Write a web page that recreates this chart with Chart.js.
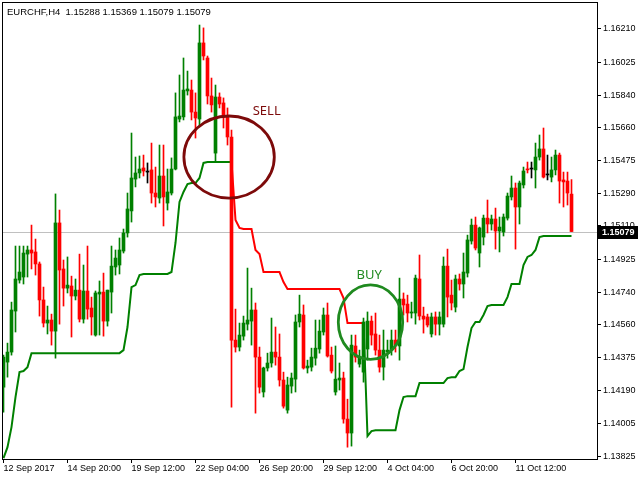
<!DOCTYPE html>
<html>
<head>
<meta charset="utf-8">
<script src="https://cdn.jsdelivr.net/npm/chart.js@4.4.0/dist/chart.umd.min.js"></script>
<style>
  html, body { margin: 0; padding: 0; background: #fff; }
</style>
</head>
<body>
<canvas id="chart" width="640" height="480"></canvas>
<script>
// EURCHF H4 candles, oldest first
const symbol = 'EURCHF,H4';

const opens = [
  1.14210, 1.14350, 1.14406, 1.14635, 1.14808, 1.14825, 1.14953, 1.14976, 1.14965, 1.14898,
  1.14697, 1.14568, 1.14585, 1.14523, 1.15127, 1.14870, 1.14763, 1.14775, 1.14719, 1.14752,
  1.14590, 1.14747, 1.14652, 1.14501, 1.14730, 1.14741, 1.14579, 1.14741, 1.14881, 1.14892,
  1.14970, 1.15071, 1.15194, 1.15372, 1.15406, 1.15434, 1.15411, 1.15423, 1.15294, 1.15266,
  1.15389, 1.15238, 1.15294, 1.15428, 1.15707, 1.15719, 1.15864, 1.15869, 1.15746, 1.15707,
  1.16132, 1.16048, 1.15836, 1.15517, 1.15830, 1.15797, 1.15719, 1.15607, 1.14473, 1.14434,
  1.14495, 1.14562, 1.14579, 1.14641, 1.14378, 1.14183, 1.14317, 1.14345, 1.14406, 1.14378,
  1.14250, 1.14082, 1.14216, 1.14255, 1.14574, 1.14613, 1.14317, 1.14322, 1.14372, 1.14423,
  1.14518, 1.14613, 1.14389, 1.14183, 1.14250, 1.14261, 1.14032, 1.13954, 1.14440, 1.14339,
  1.14294, 1.14423, 1.14579, 1.14507, 1.14417, 1.14322, 1.14406, 1.14417, 1.14473, 1.14440,
  1.14702, 1.14674, 1.14624, 1.14624, 1.14814, 1.14607, 1.14602, 1.14507, 1.14602, 1.14562,
  1.14562, 1.14886, 1.14724, 1.14657, 1.14814, 1.14786, 1.14847, 1.15026, 1.15115, 1.14959,
  1.15048, 1.15154, 1.15121, 1.15149, 1.15082, 1.15076, 1.15154, 1.15272, 1.15322, 1.15216,
  1.15339, 1.15428, 1.15428, 1.15423, 1.15495, 1.15540, 1.15395, 1.15383, 1.15423, 1.15506,
  1.15367, 1.15361, 1.15288
];
const highs = [
  1.14389, 1.14456, 1.14685, 1.14998, 1.14998, 1.14998, 1.14998, 1.15115, 1.15037, 1.14909,
  1.14769, 1.14663, 1.14618, 1.15289, 1.15199, 1.14920, 1.14937, 1.14830, 1.14814, 1.14953,
  1.14892, 1.14998, 1.14713, 1.14747, 1.14803, 1.14847, 1.14752, 1.14998, 1.14976, 1.15043,
  1.15093, 1.15294, 1.15629, 1.15495, 1.15501, 1.15506, 1.15462, 1.15573, 1.15439, 1.15562,
  1.15562, 1.15428, 1.15490, 1.15853, 1.15953, 1.16048, 1.15975, 1.15925, 1.15853, 1.16232,
  1.16216, 1.16059, 1.15936, 1.15897, 1.15853, 1.15825, 1.15769, 1.15646, 1.14646, 1.14568,
  1.14607, 1.14875, 1.14763, 1.14680, 1.14434, 1.14322, 1.14400, 1.14596, 1.14546, 1.14507,
  1.14294, 1.14266, 1.14289, 1.14613, 1.14724, 1.14669, 1.14361, 1.14428, 1.14585, 1.14585,
  1.14652, 1.14680, 1.14434, 1.14440, 1.14345, 1.14294, 1.14143, 1.14501, 1.14501, 1.14417,
  1.14596, 1.14630, 1.14607, 1.14624, 1.14501, 1.14529, 1.14473, 1.14529, 1.14529, 1.14819,
  1.14736, 1.14724, 1.14685, 1.14836, 1.14948, 1.14657, 1.14618, 1.14624, 1.14630, 1.14630,
  1.14937, 1.14981, 1.14808, 1.14836, 1.14842, 1.14959, 1.15059, 1.15149, 1.15160, 1.15104,
  1.15171, 1.15255, 1.15171, 1.15210, 1.15160, 1.15177, 1.15294, 1.15389, 1.15350, 1.15361,
  1.15439, 1.15467, 1.15467, 1.15573, 1.15618, 1.15657, 1.15506, 1.15495, 1.15534, 1.15517,
  1.15411, 1.15411, 1.15369
];
const lows = [
  1.14071, 1.14266, 1.14389, 1.14518, 1.14791, 1.14786, 1.14825, 1.14870, 1.14836, 1.14607,
  1.14546, 1.14507, 1.14445, 1.14372, 1.14562, 1.14663, 1.14736, 1.14490, 1.14697, 1.14574,
  1.14568, 1.14590, 1.14501, 1.14495, 1.14501, 1.14495, 1.14551, 1.14624, 1.14836, 1.14842,
  1.14959, 1.15048, 1.15132, 1.15328, 1.15378, 1.15389, 1.15350, 1.15238, 1.15216, 1.15238,
  1.15110, 1.15199, 1.15283, 1.15423, 1.15691, 1.15702, 1.15841, 1.15702, 1.15601, 1.15668,
  1.16037, 1.15791, 1.15746, 1.15467, 1.15769, 1.15657, 1.15562, 1.14099, 1.14406, 1.14412,
  1.14473, 1.14529, 1.14445, 1.14065, 1.14177, 1.14155, 1.14300, 1.14322, 1.14333, 1.14216,
  1.14093, 1.14065, 1.14177, 1.14183, 1.14546, 1.14311, 1.14289, 1.14300, 1.14333, 1.14400,
  1.14501, 1.14378, 1.14289, 1.14166, 1.14194, 1.14009, 1.13875, 1.13881, 1.14350, 1.14322,
  1.14238, 1.14361, 1.14445, 1.14389, 1.14294, 1.14250, 1.14372, 1.14389, 1.14406, 1.14361,
  1.14613, 1.14574, 1.14596, 1.14562, 1.14585, 1.14512, 1.14546, 1.14490, 1.14501, 1.14501,
  1.14546, 1.14602, 1.14641, 1.14630, 1.14752, 1.14708, 1.14825, 1.15009, 1.14976, 1.14881,
  1.15004, 1.15071, 1.15087, 1.14981, 1.14965, 1.15054, 1.15143, 1.15255, 1.14981, 1.15121,
  1.15322, 1.15406, 1.15378, 1.15322, 1.15478, 1.15378, 1.15367, 1.15356, 1.15395, 1.15238,
  1.15216, 1.15227, 1.15079
];
const closes = [
  1.14378, 1.14406, 1.14641, 1.14814, 1.14853, 1.14959, 1.14976, 1.14959, 1.14898, 1.14697,
  1.14568, 1.14585, 1.14523, 1.15127, 1.14864, 1.14763, 1.14780, 1.14719, 1.14752, 1.14590,
  1.14747, 1.14646, 1.14602, 1.14736, 1.14741, 1.14579, 1.14752, 1.14886, 1.14931, 1.14976,
  1.15071, 1.15205, 1.15378, 1.15406, 1.15428, 1.15417, 1.15411, 1.15294, 1.15272, 1.15389,
  1.15272, 1.15300, 1.15428, 1.15719, 1.15724, 1.15869, 1.15875, 1.15746, 1.15713, 1.16132,
  1.16059, 1.15836, 1.15786, 1.15830, 1.15791, 1.15719, 1.15607, 1.14473, 1.14434, 1.14501,
  1.14568, 1.14585, 1.14641, 1.14378, 1.14210, 1.14317, 1.14345, 1.14406, 1.14378, 1.14250,
  1.14104, 1.14222, 1.14261, 1.14574, 1.14618, 1.14317, 1.14328, 1.14378, 1.14428, 1.14523,
  1.14613, 1.14384, 1.14300, 1.14255, 1.14261, 1.14032, 1.13954, 1.14445, 1.14378, 1.14372,
  1.14574, 1.14579, 1.14501, 1.14417, 1.14322, 1.14417, 1.14417, 1.14473, 1.14445, 1.14702,
  1.14669, 1.14624, 1.14630, 1.14819, 1.14607, 1.14590, 1.14557, 1.14602, 1.14562, 1.14602,
  1.14886, 1.14713, 1.14680, 1.14814, 1.14786, 1.14853, 1.15032, 1.15115, 1.14987, 1.15099,
  1.15154, 1.15121, 1.15149, 1.15082, 1.15104, 1.15160, 1.15277, 1.15322, 1.15216, 1.15350,
  1.15417, 1.15423, 1.15428, 1.15495, 1.15540, 1.15383, 1.15395, 1.15423, 1.15506, 1.15361,
  1.15356, 1.15294, 1.15079
];

// trailing stop indicator, one value per bar
const trailStop = [
  1.13814, 1.13875, 1.13987, 1.14155, 1.14294, 1.14300, 1.14322, 1.14400, 1.14400, 1.14400,
  1.14400, 1.14400, 1.14400, 1.14400, 1.14400, 1.14400, 1.14400, 1.14400, 1.14400, 1.14400,
  1.14400, 1.14400, 1.14400, 1.14400, 1.14400, 1.14400, 1.14400, 1.14400, 1.14400, 1.14400,
  1.14417, 1.14546, 1.14769, 1.14780, 1.14836, 1.14842, 1.14842, 1.14842, 1.14842, 1.14842,
  1.14842, 1.14842, 1.14853, 1.15015, 1.15244, 1.15300, 1.15344, 1.15350, 1.15350, 1.15378,
  1.15462, 1.15467, 1.15467, 1.15467, 1.15467, 1.15467, 1.15467, 1.15467, 1.15143, 1.15099,
  1.15093, 1.15093, 1.15093, 1.14976, 1.14953, 1.14853, 1.14853, 1.14853, 1.14853, 1.14853,
  1.14797, 1.14758, 1.14758, 1.14758, 1.14758, 1.14758, 1.14758, 1.14758, 1.14758, 1.14758,
  1.14758, 1.14758, 1.14758, 1.14758, 1.14758, 1.14708, 1.14568, 1.14568, 1.14568, 1.14568,
  1.14568, 1.13937, 1.13965, 1.13970, 1.13970, 1.13970, 1.13970, 1.13970, 1.13970, 1.14082,
  1.14155, 1.14160, 1.14160, 1.14160, 1.14233, 1.14233, 1.14233, 1.14233, 1.14233, 1.14233,
  1.14233, 1.14261, 1.14266, 1.14266, 1.14300, 1.14311, 1.14434, 1.14540, 1.14574, 1.14574,
  1.14613, 1.14663, 1.14669, 1.14669, 1.14669, 1.14669, 1.14713, 1.14786, 1.14786, 1.14786,
  1.14892, 1.14937, 1.14948, 1.14976, 1.15048, 1.15054, 1.15054, 1.15054, 1.15054, 1.15054,
  1.15054, 1.15054, 1.15054
];
const sellBar = 57;   // stop flips above price
const buyBar = 90;    // stop flips back below price

const yTicks = [1.16210, 1.16025, 1.15840, 1.15660, 1.15475, 1.15290, 1.15110,
                1.14925, 1.14740, 1.14560, 1.14375, 1.14190, 1.14005, 1.13825];
const yMin = 1.13809;
const yMax = 1.16355;
const xTickBars = [0, 16, 32, 48, 64, 80, 96, 112, 128];
const xTickLabels = ['12 Sep 2017', '14 Sep 20:00', '19 Sep 12:00', '22 Sep 04:00', '26 Sep 20:00',
                     '29 Sep 12:00', '4 Oct 04:00', '6 Oct 20:00', '11 Oct 12:00'];

// circled signals: centre bar / price, radius in bars / price
const marks = [
  { text: 'SELL', bar: 56.4, price: 1.15495, rBars: 11.3, rPrice: 0.00229, color: '#7d0a0a',
    textBar: 62.3, textPrice: 1.15730, align: 'left' },
  { text: 'BUY', bar: 91.75, price: 1.14573, rBars: 8.05, rPrice: 0.00208, color: '#1f8a1f',
    textBar: 91.4, textPrice: 1.14814, align: 'center' }
];

const GREEN = '#008000';
const RED = '#ff0000';
const FONT = 'Liberation Sans, Arial, sans-serif';

const idx = opens.map((_, i) => i);
const last = opens.length - 1;
const candleColor = idx.map(i => closes[i] > opens[i] ? GREEN : (closes[i] < opens[i] ? RED : '#000000'));

const greenTrail = idx.map(i => ({ x: i, y: (i <= sellBar || i >= buyBar) ? trailStop[i] : null }));
const redTrail = idx.map(i => ({ x: i, y: (i >= sellBar && i <= buyBar) ? trailStop[i] : null }));

// bid line, frame, title, price box, signal circles
const overlay = {
  id: 'overlay',
  beforeDatasetsDraw(chart) {
    const { ctx, chartArea: a } = chart;
    const y = Math.round(chart.scales.y.getPixelForValue(closes[last])) + 0.5;
    ctx.save();
    ctx.strokeStyle = '#c0c0c0';
    ctx.lineWidth = 1;
    ctx.beginPath();
    ctx.moveTo(a.left, y);
    ctx.lineTo(a.right, y);
    ctx.stroke();
    ctx.restore();
  },
  afterDatasetsDraw(chart) {
    const { ctx } = chart;
    const xs = chart.scales.x, ys = chart.scales.y;
    ctx.save();
    marks.forEach(m => {
      const cx = xs.getPixelForValue(m.bar);
      const cy = ys.getPixelForValue(m.price);
      const rx = xs.getPixelForValue(m.bar + m.rBars) - cx;
      const ry = ys.getPixelForValue(m.price - m.rPrice) - cy;
      ctx.strokeStyle = m.color;
      ctx.lineWidth = 2.8;
      ctx.beginPath();
      ctx.ellipse(cx, cy, rx, ry, 0, 0, Math.PI * 2);
      ctx.stroke();
      ctx.fillStyle = m.color;
      ctx.font = '13px "Noto Sans", sans-serif';
      ctx.textAlign = m.align;
      ctx.textBaseline = 'alphabetic';
      ctx.fillText(m.text, xs.getPixelForValue(m.textBar), ys.getPixelForValue(m.textPrice));
    });
    ctx.restore();
  },
  afterDraw(chart) {
    const { ctx, chartArea: a } = chart;
    ctx.save();
    ctx.strokeStyle = '#000';
    ctx.lineWidth = 1;
    ctx.strokeRect(a.left - 0.5, a.top - 0.5, a.right - a.left + 1, a.bottom - a.top + 1);

    ctx.fillStyle = '#000';
    ctx.font = '9.5px ' + FONT;
    ctx.textAlign = 'left';
    ctx.textBaseline = 'alphabetic';
    const ohlc = [opens[last], highs[last], lows[last], closes[last]].map(v => v.toFixed(5)).join(' ');
    ctx.fillText(symbol + '  ' + ohlc, 7, 15);

    const y = Math.round(chart.scales.y.getPixelForValue(closes[last]));
    ctx.fillStyle = '#000';
    ctx.fillRect(a.right + 1, y - 6, 40, 13);
    ctx.fillStyle = '#fff';
    ctx.font = 'bold 9px ' + FONT;
    ctx.textBaseline = 'middle';
    ctx.fillText(closes[last].toFixed(5), a.right + 5, y + 0.5);
    ctx.restore();
  }
};

new Chart(document.getElementById('chart'), {
  type: 'bar',
  data: {
    datasets: [
      { type: 'line', data: greenTrail, borderColor: GREEN, borderWidth: 2, pointRadius: 0,
        spanGaps: false, order: 4 },
      { type: 'line', data: redTrail, borderColor: RED, borderWidth: 2, pointRadius: 0,
        spanGaps: false, order: 3 },
      { data: idx.map(i => ({ x: i, y: [lows[i], highs[i]] })), backgroundColor: candleColor,
        barThickness: 1, grouped: false, order: 2 },
      { data: idx.map(i => ({ x: i, y: [opens[i], closes[i]] })), backgroundColor: candleColor,
        barThickness: 3, minBarLength: 1, grouped: false, order: 1 }
    ]
  },
  options: {
    responsive: false,
    animation: false,
    devicePixelRatio: 1,
    layout: { padding: { left: 3, top: 3, right: 0, bottom: 0 } },
    plugins: { legend: { display: false }, tooltip: { enabled: false } },
    scales: {
      x: {
        type: 'linear', min: -0.125, max: 148.375, offset: false,
        grid: { drawOnChartArea: false, drawTicks: true, tickLength: 4, color: '#000', offset: false },
        border: { display: false },
        afterBuildTicks: s => { s.ticks = xTickBars.map(v => ({ value: v })); },
        afterFit: s => { s.height = 21; s.paddingLeft = 0; s.paddingRight = 0; },
        ticks: {
          align: 'start', autoSkip: false, maxRotation: 0, padding: 0, color: '#000',
          font: { family: FONT, size: 9 },
          callback: v => { const k = xTickBars.indexOf(v); return k >= 0 ? xTickLabels[k] : ''; }
        }
      },
      y: {
        position: 'right', min: yMin, max: yMax,
        grid: { drawOnChartArea: false, drawTicks: true, tickLength: 4, color: '#000' },
        border: { display: false },
        afterBuildTicks: s => { s.ticks = yTicks.map(v => ({ value: v })); },
        afterFit: s => { s.width = 43; s.paddingTop = 0; s.paddingBottom = 0; },
        ticks: {
          padding: 2, color: '#000', font: { family: FONT, size: 9 },
          callback: v => v.toFixed(5)
        }
      }
    }
  },
  plugins: [overlay]
});
</script>
</body>
</html>
